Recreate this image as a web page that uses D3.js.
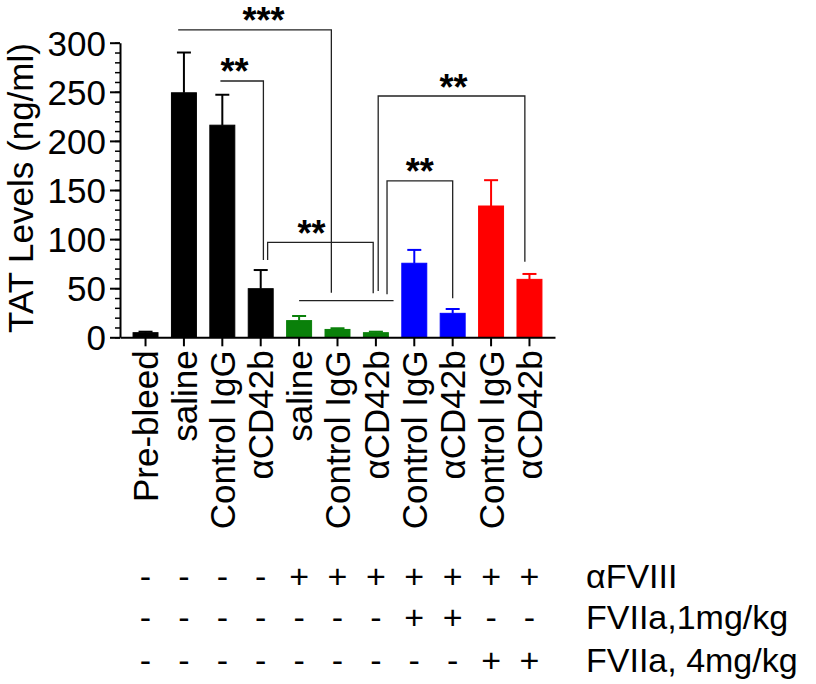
<!DOCTYPE html>
<html>
<head>
<meta charset="utf-8">
<script src="https://cdn.jsdelivr.net/npm/d3@7"></script>
<style>
  html, body { margin: 0; padding: 0; background: #fff; }
  svg { display: block; font-family: "Liberation Sans", Arial, sans-serif; }
</style>
</head>
<body>
<svg id="chart" width="816" height="684"></svg>
<script>
// ---------- data ----------
const categories = ["Pre-bleed", "saline", "Control IgG", "\u03b1CD42b", "saline", "Control IgG",
                    "\u03b1CD42b", "Control IgG", "\u03b1CD42b", "Control IgG", "\u03b1CD42b"];
const means  = [4.7, 249, 216, 49.5, 17, 8, 4.7, 75.4, 24.4, 133.7, 59];
const errors = [1.0, 41, 31, 19, 4.7, 1.2, 1.0, 13.6, 4.4, 26.3, 5.5];
const groups = ["ctrl", "ctrl", "ctrl", "ctrl", "fviii", "fviii", "fviii", "low", "low", "high", "high"];
const groupColors = { ctrl: "#000000", fviii: "#0a800a", low: "#0000ff", high: "#ff0000" };

const yTicks = [0, 50, 100, 150, 200, 250, 300];
const yMinorTicks = d3.range(0, 301, 10);

const rowLabels = ["\u03b1FVIII", "FVIIa,1mg/kg", "FVIIa, 4mg/kg"];
const rowAFVIII = ["-", "-", "-", "-", "+", "+", "+", "+", "+", "+", "+"];
const rowFVIIa1 = ["-", "-", "-", "-", "-", "-", "-", "+", "+", "-", "-"];
const rowFVIIa4 = ["-", "-", "-", "-", "-", "-", "-", "-", "-", "+", "+"];

// significance brackets: [x1 (category index), x2, level value, left drop value (null = none), right drop value, label, label position index]
const brackets = [
  [0.85, 4.84, 313, null, 45.4, "***", 3.07],
  [1.95, 3.07, 261, null, 78.7, "**", 2.32],
  [3.18, 5.93, 96.7, 78.7, 44.8, "**", 4.32],
  [6.06, 9.88, 245.7, 47.1, 77, "**", 8.02],
  [6.29, 8.00, 159.2, 43.8, 39.7, "**", 7.14]
];
// grouping line under the green bars: [x1, x2, value]
const groupLines = [[4.0, 6.46, 37.3]];

// ---------- layout ----------
const svg = d3.select("#chart");
const FONT = 35;

const x = d3.scaleBand().domain(d3.range(categories.length))
  .range([120, 555]).paddingInner(0.35).paddingOuter(0.34);
const xc = d3.scaleLinear().domain([0, categories.length - 1])
  .range([x(0) + x.bandwidth() / 2, x(categories.length - 1) + x.bandwidth() / 2]);
const y = d3.scaleLinear().domain([0, 300]).range([337.3, 42.7]);

// bars
svg.append("g").selectAll("rect").data(means).join("rect")
  .attr("x", (d, i) => x(i))
  .attr("y", d => y(d))
  .attr("width", x.bandwidth())
  .attr("height", d => y(0) - y(d))
  .attr("fill", (d, i) => groupColors[groups[i]])
  .attr("stroke", (d, i) => groupColors[groups[i]])
  .attr("stroke-width", 1);

// error bars (upper only)
const eb = svg.append("g");
means.forEach((m, i) => {
  const cx = xc(i), col = groupColors[groups[i]];
  eb.append("line").attr("x1", cx).attr("x2", cx)
    .attr("y1", y(m)).attr("y2", y(m + errors[i]))
    .attr("stroke", col).attr("stroke-width", 2);
  eb.append("line").attr("x1", cx - 7).attr("x2", cx + 7)
    .attr("y1", y(m + errors[i])).attr("y2", y(m + errors[i]))
    .attr("stroke", col).attr("stroke-width", 2);
});

// y axis: minor ticks
svg.append("g").attr("transform", "translate(120,0)")
  .call(d3.axisLeft(y).tickValues(yMinorTicks).tickSize(5).tickFormat(""))
  .call(g => g.select(".domain").remove())
  .call(g => g.selectAll("line").attr("stroke", "#000").attr("stroke-width", 1.5));
// y axis: major ticks and labels
svg.append("g").attr("transform", "translate(120,0)")
  .call(d3.axisLeft(y).tickValues(yTicks).tickSize(10).tickSizeOuter(0).tickPadding(4))
  .call(g => g.select(".domain").attr("stroke", "#000").attr("stroke-width", 2))
  .call(g => g.selectAll("line").attr("stroke", "#000").attr("stroke-width", 2))
  .call(g => g.selectAll("text").attr("font-size", FONT).attr("font-family", "Liberation Sans, Arial, sans-serif")
    .attr("fill", "#000").attr("dy", "0.36em"));

// x axis
svg.append("g").attr("transform", `translate(0,${y(0)})`)
  .call(d3.axisBottom(x).tickSize(9).tickSizeOuter(0).tickFormat(i => categories[i]))
  .call(g => g.select(".domain").attr("stroke", "#000").attr("stroke-width", 2))
  .call(g => g.selectAll("line").attr("stroke", "#000").attr("stroke-width", 2))
  .call(g => g.selectAll("text")
    .attr("font-size", FONT).attr("font-family", "Liberation Sans, Arial, sans-serif").attr("fill", "#000")
    .attr("transform", "rotate(-90)")
    .attr("x", -13).attr("y", 0).attr("dy", "0.36em")
    .style("text-anchor", "end"));

// y axis title
svg.append("text")
  .attr("transform", `translate(33,${(y(0) + y(300)) / 2 - 2}) rotate(-90)`)
  .attr("text-anchor", "middle")
  .attr("font-size", 35)
  .text("TAT Levels (ng/ml)");

// significance brackets
const br = svg.append("g").attr("stroke", "#222").attr("stroke-width", 1.3).attr("fill", "none");
brackets.forEach(([a, b, lv, ld, rd]) => {
  let p = "";
  if (ld !== null) p += `M${xc(a)},${y(ld)}L${xc(a)},${y(lv)}`; else p += `M${xc(a)},${y(lv)}`;
  p += `L${xc(b)},${y(lv)}`;
  if (rd !== null) p += `L${xc(b)},${y(rd)}`;
  br.append("path").attr("d", p);
});
groupLines.forEach(([a, b, v]) => {
  br.append("line").attr("x1", xc(a)).attr("x2", xc(b)).attr("y1", y(v)).attr("y2", y(v));
});
svg.append("g").selectAll("text").data(brackets).join("text")
  .attr("x", d => xc(d[6]))
  .attr("y", d => y(d[2]) + 3.5)
  .attr("text-anchor", "middle")
  .attr("font-size", 36)
  .attr("font-weight", "bold")
  .text(d => d[5]);

// treatment table
const rows = [rowAFVIII, rowFVIIa1, rowFVIIa4];
const rowBase = [588, 629, 672];
const TFONT = 34;
rows.forEach((r, k) => {
  svg.append("g").selectAll("text").data(r).join("text")
    .attr("x", (d, i) => xc(i))
    .attr("y", rowBase[k])
    .attr("text-anchor", "middle")
    .attr("font-size", TFONT)
    .text(d => d);
  svg.append("text").attr("x", 586).attr("y", rowBase[k])
    .attr("font-size", TFONT).text(rowLabels[k]);
});
</script>
</body>
</html>
